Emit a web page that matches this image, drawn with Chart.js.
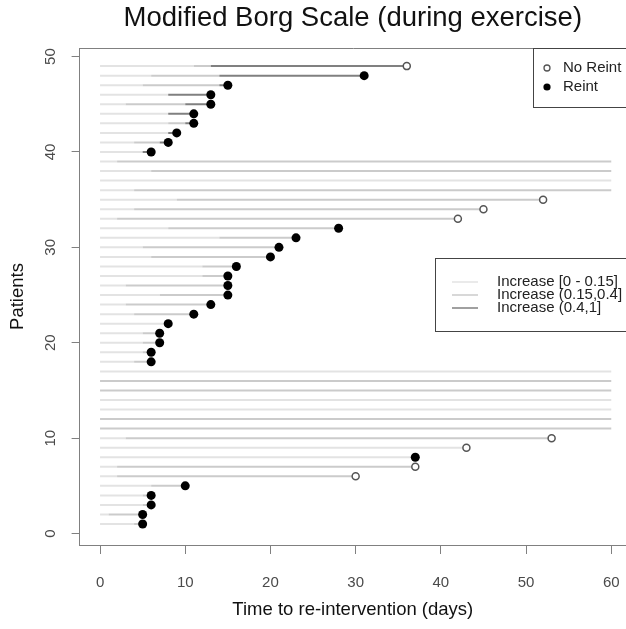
<!DOCTYPE html>
<html>
<head>
<meta charset="utf-8">
<title>Modified Borg Scale (during exercise)</title>
<script src="https://cdn.jsdelivr.net/npm/chart.js@4.4.1/dist/chart.umd.min.js"></script>
<style>
  html, body { margin: 0; padding: 0; background: #fff; }
  #wrap { width: 626px; height: 629px; overflow: hidden; }
</style>
</head>
<body>
<div id="wrap"><canvas id="borg" width="626" height="629"></canvas></div>
<script>
// one row per patient
const patients = [1, 2, 3, 4, 5, 6, 7, 8, 9, 10, 11, 12, 13, 14, 15, 16, 17, 18, 19, 20,
  21, 22, 23, 24, 25, 26, 27, 28, 29, 30, 31, 32, 33, 34, 35, 36, 37, 38, 39, 40,
  41, 42, 43, 44, 45, 46, 47, 48, 49];

// day the follow-up line stops
const endDay = [5, 5, 6, 6, 10, 30, 37, 37, 43, 53,
  60, 60, 60, 60, 60, 60, 60,
  6, 6, 7, 7, 8, 11, 13, 15, 15, 15, 16, 20, 21, 23, 28,
  42, 45, 52,
  60, 60, 60, 60,
  6, 8, 9, 11, 11, 13, 13, 15, 31, 36];

// R = re-intervention, N = no re-intervention, "" = still followed at day 60
const outcome = ["R", "R", "R", "R", "R", "N", "N", "R", "N", "N",
  "", "", "", "", "", "", "",
  "R", "R", "R", "R", "R", "R", "R", "R", "R", "R", "R", "R", "R", "R", "R",
  "N", "N", "N",
  "", "", "", "",
  "R", "R", "R", "R", "R", "R", "R", "R", "R", "N"];

// day where the [0 - 0.15] increase band ends
const lowEnd = [4, 1, 5, 5, 6, 2, 2, 37, 43, 3,
  0, 0, 60, 60, 0, 0, 60,
  4, 5, 5, 5, 8, 4, 3, 7, 3, 12, 12, 6, 5, 14, 8,
  2, 4, 9,
  4, 60, 6, 2,
  5, 4, 8, 8, 8, 3, 8, 5, 6, 11];

// day where the (0.15,0.4] band ends; the (0.4,1] band runs from here to endDay
const midEnd = [5, 5, 6, 6, 10, 30, 37, 37, 43, 53,
  60, 60, 60, 60, 60, 60, 60,
  6, 6, 7, 7, 8, 11, 13, 15, 15, 15, 16, 20, 21, 23, 28,
  42, 45, 52,
  60, 60, 60, 60,
  5, 7, 8, 10, 8, 10, 8, 14, 14, 13];

const xTicks = [0, 10, 20, 30, 40, 50, 60];
const yTicks = [0, 10, 20, 30, 40, 50];

const bandLabels = ["Increase [0 - 0.15]", "Increase (0.15,0.4]", "Increase (0.4,1]"];
const bandColors = ["#e3e3e3", "#cbcbcb", "#808080"];

Chart.defaults.font.family = "'Liberation Sans', Arial, sans-serif";

// every band becomes one dataset of short segments split by null points
function bandSegments(band) {
  const pts = [];
  patients.forEach((p, i) => {
    const bounds = [0, lowEnd[i], midEnd[i], endDay[i]];
    const from = bounds[band];
    const to = bounds[band + 1];
    if (to > from) {
      pts.push({ x: from, y: p }, { x: to, y: p }, { x: null, y: null });
    }
  });
  return pts;
}

function endPoints(code) {
  const pts = [];
  patients.forEach((p, i) => {
    if (outcome[i] === code) pts.push({ x: endDay[i], y: p });
  });
  return pts;
}

const lineSets = bandLabels.map((label, b) => ({
  type: "line",
  label: label,
  data: bandSegments(b),
  borderColor: bandColors[b],
  borderWidth: 2,
  pointRadius: 0,
  spanGaps: false,
  order: 3 - b,
}));

const markerSets = [
  {
    type: "scatter",
    label: "No Reint",
    data: endPoints("N"),
    pointRadius: 3.5,
    pointBackgroundColor: "#ffffff",
    pointBorderColor: "#555555",
    pointBorderWidth: 1.5,
    order: 0,
  },
  {
    type: "scatter",
    label: "Reint",
    data: endPoints("R"),
    pointRadius: 4.5,
    pointBackgroundColor: "#000000",
    pointBorderColor: "#000000",
    pointBorderWidth: 0,
    order: 0,
  },
];

// top edge of the frame plus the two keys
const keysPlugin = {
  id: "keys",
  afterDraw(chart) {
    const ctx = chart.ctx;
    const area = chart.chartArea;
    ctx.save();
    ctx.strokeStyle = "#808080";
    ctx.lineWidth = 1;
    ctx.beginPath();
    ctx.moveTo(area.left, area.top + 0.5);
    ctx.lineTo(area.right + 10, area.top + 0.5);
    ctx.stroke();

    ctx.font = "15px 'Liberation Sans', Arial, sans-serif";
    ctx.textBaseline = "middle";
    ctx.textAlign = "left";

    // outcome key
    ctx.fillStyle = "#ffffff";
    ctx.fillRect(533, area.top, 140, 59);
    ctx.strokeStyle = "#444444";
    ctx.strokeRect(533.5, area.top + 0.5, 140, 59);
    ctx.beginPath();
    ctx.arc(547, 68, 3, 0, Math.PI * 2);
    ctx.fillStyle = "#ffffff";
    ctx.fill();
    ctx.lineWidth = 1.3;
    ctx.strokeStyle = "#555555";
    ctx.stroke();
    ctx.beginPath();
    ctx.arc(547, 87, 3.6, 0, Math.PI * 2);
    ctx.fillStyle = "#000000";
    ctx.fill();
    ctx.fillStyle = "#222222";
    ctx.fillText(markerSets[0].label, 563, 68);
    ctx.fillText(markerSets[1].label, 563, 87);

    // band key
    ctx.lineWidth = 1;
    ctx.fillStyle = "#ffffff";
    ctx.fillRect(435, 258, 220, 73);
    ctx.strokeStyle = "#444444";
    ctx.strokeRect(435.5, 258.5, 220, 73);
    bandLabels.forEach((label, b) => {
      const y = 282 + b * 13;
      ctx.strokeStyle = bandColors[b];
      ctx.lineWidth = 1.5;
      ctx.beginPath();
      ctx.moveTo(452, y);
      ctx.lineTo(478, y);
      ctx.stroke();
      ctx.fillStyle = "#222222";
      ctx.fillText(label, 497, y);
    });
    ctx.restore();
  },
};

new Chart(document.getElementById("borg"), {
  data: { datasets: [...markerSets, ...lineSets] },
  options: {
    responsive: false,
    animation: false,
    events: [],
    layout: { padding: 0, autoPadding: false },
    plugins: {
      legend: { display: false },
      tooltip: { enabled: false },
      title: {
        display: true,
        text: "Modified Borg Scale (during exercise)",
        fullSize: false,
        color: "#111111",
        font: { size: 27.5, weight: "normal" },
        padding: { top: 1.5, bottom: 13.5 },
      },
    },
    scales: {
      x: {
        type: "linear",
        min: -2.4,
        max: 61.73,
        afterBuildTicks: (s) => { s.ticks = xTicks.map((v) => ({ value: v })); },
        afterFit: (s) => { s.height = 84; s.paddingLeft = 0; s.paddingRight = 0; },
        ticks: { color: "#4a4a4a", font: { size: 15 }, padding: 20, maxRotation: 0, autoSkip: false },
        grid: { drawOnChartArea: false, drawTicks: true, tickLength: 9, color: "#808080" },
        border: { display: true, color: "#808080" },
        title: {
          display: true,
          text: "Time to re-intervention (days)",
          color: "#111111",
          font: { size: 18.5 },
          padding: { top: 0, bottom: 8 },
        },
      },
      y: {
        type: "linear",
        min: -1.2,
        max: 50.9,
        afterBuildTicks: (s) => { s.ticks = yTicks.map((v) => ({ value: v })); },
        afterFit: (s) => { s.width = 79.6; s.paddingTop = 0; s.paddingBottom = 0; },
        ticks: { color: "#4a4a4a", font: { size: 15 }, padding: 12, minRotation: 90, maxRotation: 90, crossAlign: "center" },
        grid: { drawOnChartArea: false, drawTicks: true, tickLength: 8, color: "#808080" },
        border: { display: true, color: "#808080" },
        title: {
          display: true,
          text: "Patients",
          color: "#111111",
          font: { size: 18.5 },
          padding: { top: 7, bottom: 0 },
        },
      },
    },
  },
  plugins: [keysPlugin],
});
</script>
</body>
</html>
